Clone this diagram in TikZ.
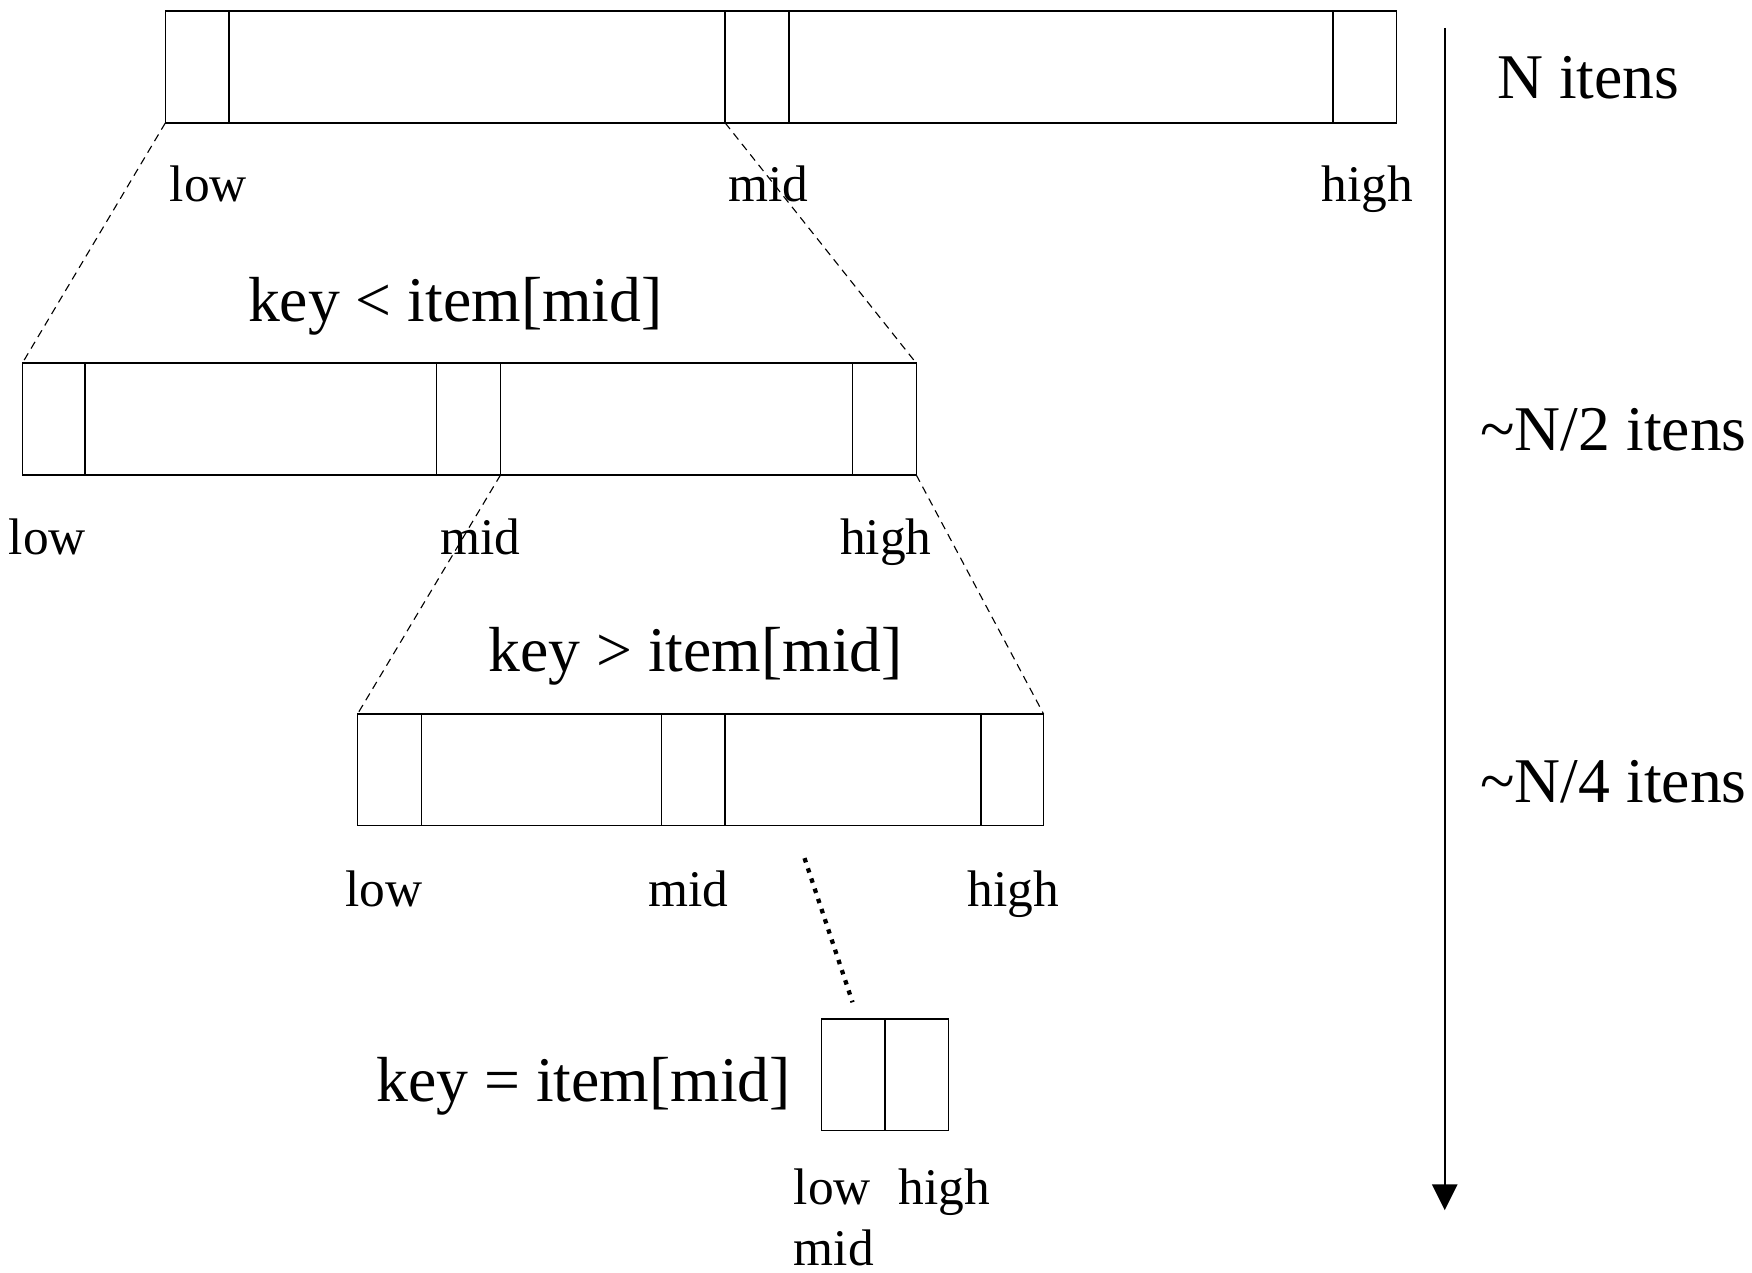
\documentclass[tikz,border=0pt]{standalone}
\usepackage{fontspec}
\setmainfont{Liberation Serif}
\usetikzlibrary{arrows.meta}
\begin{document}
\begin{tikzpicture}[x=0.5pt,y=-0.5pt,
  cell/.style={draw,line width=0.6pt,rectangle,inner sep=0pt,outer sep=0pt,anchor=north west,minimum height=50pt},
  divider/.style={line width=0.6pt},
  thindiv/.style={line width=0.45pt},
  guide/.style={line width=0.5pt,dash pattern=on 3.5pt off 2.5pt},
  dotguide/.style={line width=1.9pt,dash pattern=on 2pt off 2.8pt},
  small/.style={font=\fontsize{23}{27}\selectfont,anchor=base west,inner sep=0pt,outer sep=0pt},
  big/.style={font=\fontsize{28.5}{33}\selectfont,anchor=base west,inner sep=0pt,outer sep=0pt},
  axis/.style={line width=0.9pt,-{Triangle[length=11.5pt,width=11.3pt]}}]
\useasboundingbox (0,0) rectangle (1568,1139.3);

% row 1 (N items)
\node[cell,minimum width=551pt] (b1) at (148,10) {};
\draw[divider] (205,10) -- (205,110);
\draw[divider] (649,10) -- (649,110);
\draw[divider] (706,10) -- (706,110);
\draw[divider] (1193,10) -- (1193,110);
\coordinate (b1mid) at (649,110);
\node[small] (l1low) at (152,180) {low};
\node[small] (l1mid) at (652,180) {mid};
\node[small] (l1high) at (1183,180) {high};

% row 2
\node[big] (cmp1) at (222,288) {key < item[mid]};
\node[cell,minimum width=400pt] (b2) at (20,325) {};
\draw[divider] (76,325) -- (76,425);
\draw[thindiv] (391,325) -- (391,425);
\draw[divider] (448,325) -- (448,425);
\draw[thindiv] (763,325) -- (763,425);
\coordinate (b2mid) at (448,425);
\node[small] (l2low) at (8,496) {low};
\node[small] (l2mid) at (394,496) {mid};
\node[small] (l2high) at (752,496) {high};

% row 3
\node[big] (cmp2) at (437,601) {key > item[mid]};
\node[cell,minimum width=307pt] (b3) at (320,639) {};
\draw[divider] (377,639) -- (377,739);
\draw[thindiv] (592,639) -- (592,739);
\draw[divider] (649,639) -- (649,739);
\draw[divider] (878,639) -- (878,739);
\node[small] (l3low) at (309,811) {low};
\node[small] (l3mid) at (580,811) {mid};
\node[small] (l3high) at (866,811) {high};

% row 4
\node[cell,minimum width=57pt] (b4) at (735,912) {};
\draw[divider] (792,912) -- (792,1012);
\node[big] (cmp3) at (337,986) {key = item[mid]};
\node[small] (l4low) at (710.5,1078) {low};
\node[small] (l4high) at (804.5,1078) {high};
\node[small] (l4mid) at (710.5,1133) {mid};

% zoom guides
\draw[guide] (b1.south west) -- (b2.north west);
\draw[guide] (b1mid) -- (b2.north east);
\draw[guide] (b2mid) -- (b3.north west);
\draw[guide] (b2.south east) -- (b3.north east);
\coordinate (dtop) at (720,768);
\coordinate (dbot) at (763,897);
\draw[dotguide] (dtop) -- (dbot);

% size axis
\coordinate (atop) at (1293,25);
\coordinate (abot) at (1293,1083);
\draw[axis] (atop) -- (abot);
\node[big] (n1) at (1340,88.6) {N itens};
\node[big] (n2) at (1325,403) {\textasciitilde N/2 itens};
\node[big] (n4) at (1325,718) {\textasciitilde N/4 itens};
\end{tikzpicture}
\end{document}
